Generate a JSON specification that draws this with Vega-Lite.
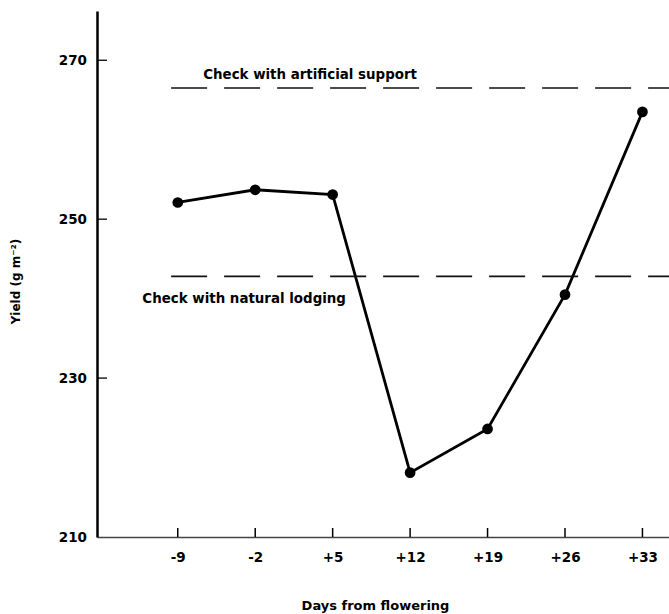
{
  "$schema": "https://vega.github.io/schema/vega-lite/v6.json",
  "width": 572,
  "height": 526,
  "autosize": "none",
  "padding": {"left": 97, "top": 11, "right": 0, "bottom": 77},
  "background": "white",
  "config": {
    "view": {"stroke": null},
    "axis": {
      "grid": false,
      "ticks": false,
      "labelFont": "DejaVu Sans",
      "labelFontWeight": "bold",
      "labelFontSize": 13.5,
      "labelColor": "black",
      "titleFont": "DejaVu Sans",
      "titleFontWeight": "bold",
      "titleColor": "black"
    }
  },
  "datasets": {
    "yield": [
      {"day": -9, "yield": 252.1},
      {"day": -2, "yield": 253.7},
      {"day": 5, "yield": 253.1},
      {"day": 12, "yield": 218.1},
      {"day": 19, "yield": 223.6},
      {"day": 26, "yield": 240.5},
      {"day": 33, "yield": 263.5}
    ],
    "checks": [
      {"check": "Check with artificial support", "start": -9.6, "end": 35.4, "value": 266.5},
      {"check": "Check with natural lodging", "start": -9.6, "end": 35.4, "value": 242.8}
    ],
    "labels": [
      {"text": "Check with artificial support", "day": -6.7, "yield": 268.2},
      {"text": "Check with natural lodging", "day": -12.2, "yield": 240.0}
    ],
    "xticks": [
      {"day": -9}, {"day": -2}, {"day": 5}, {"day": 12}, {"day": 19}, {"day": 26}, {"day": 33}
    ],
    "yticks": [
      {"yield": 230}, {"yield": 250}, {"yield": 270}
    ]
  },
  "layer": [
    {
      "data": {"name": "yield"},
      "mark": {"type": "line", "color": "black", "strokeWidth": 2.8},
      "encoding": {
        "x": {
          "field": "day", "type": "quantitative",
          "scale": {"domain": [-16.3, 35.4], "nice": false, "zero": false},
          "axis": {
            "values": [-9, -2, 5, 12, 19, 26, 33],
            "labelExpr": "datum.value > 0 ? '+' + datum.value : '' + datum.value",
            "title": "Days from flowering",
            "titleFontSize": 13,
            "titleX": 278,
            "titleY": 68,
            "titleBaseline": "middle",
            "titleAnchor": "start",
            "titleAlign": "center",
            "labelPadding": 13,
            "domainColor": "#444",
            "domainWidth": 1.3
          }
        },
        "y": {
          "field": "yield", "type": "quantitative",
          "scale": {"domain": [210, 276.2], "nice": false, "zero": false},
          "axis": {
            "values": [210, 230, 250, 270],
            "title": "Yield (g m⁻²)",
            "titleFontSize": 12,
            "titleX": -82,
            "titleY": 270,
            "titleBaseline": "middle",
            "titleAlign": "center",
            "titleAnchor": "start",
            "labelPadding": 10.5,
            "domainColor": "black",
            "domainWidth": 2.5
          }
        }
      }
    },
    {
      "data": {"name": "xticks"},
      "mark": {"type": "tick", "orient": "vertical", "size": 9, "thickness": 1.5, "yOffset": -4.5, "color": "black", "opacity": 1},
      "encoding": {
        "x": {"field": "day", "type": "quantitative", "title": "Days from flowering"},
        "y": {"datum": 210, "type": "quantitative", "title": "Yield (g m⁻²)"}
      }
    },
    {
      "data": {"name": "yticks"},
      "mark": {"type": "tick", "orient": "horizontal", "size": 10, "thickness": 1.3, "xOffset": 5, "color": "black", "opacity": 1},
      "encoding": {
        "x": {"datum": -16.3, "type": "quantitative", "title": "Days from flowering"},
        "y": {"field": "yield", "type": "quantitative", "title": "Yield (g m⁻²)"}
      }
    },
    {
      "data": {"name": "checks"},
      "mark": {"type": "rule", "strokeDash": [36, 17], "strokeWidth": 1.6, "color": "#111"},
      "encoding": {
        "x": {"field": "start", "type": "quantitative", "title": "Days from flowering"},
        "x2": {"field": "end"},
        "y": {"field": "value", "type": "quantitative", "title": "Yield (g m⁻²)"}
      }
    },
    {
      "data": {"name": "yield"},
      "mark": {"type": "point", "filled": true, "color": "black", "opacity": 1, "size": 115},
      "encoding": {
        "x": {"field": "day", "type": "quantitative", "title": "Days from flowering"},
        "y": {"field": "yield", "type": "quantitative", "title": "Yield (g m⁻²)"}
      }
    },
    {
      "data": {"name": "labels"},
      "mark": {"type": "text", "font": "DejaVu Sans", "fontWeight": "bold", "fontSize": 13.4, "align": "left", "baseline": "middle", "color": "black"},
      "encoding": {
        "x": {"field": "day", "type": "quantitative", "title": "Days from flowering"},
        "y": {"field": "yield", "type": "quantitative", "title": "Yield (g m⁻²)"},
        "text": {"field": "text"}
      }
    }
  ]
}
